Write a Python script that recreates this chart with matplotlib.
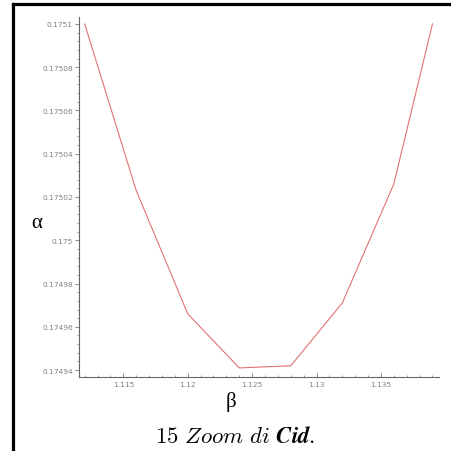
import numpy as np
import matplotlib
matplotlib.use("Agg")
import matplotlib.pyplot as plt
from matplotlib.ticker import MultipleLocator, FixedLocator
from matplotlib.lines import Line2D

plt.rcParams['mathtext.fontset'] = 'cm'

# data
beta = [1.112, 1.116, 1.120, 1.124, 1.128, 1.132, 1.136, 1.139]
alpha = [0.17510, 0.175023, 0.174966, 0.174941, 0.174942, 0.174971, 0.175026, 0.17510]

xticks = [1.115, 1.12, 1.125, 1.13, 1.135]
xtick_labels = ['1.115', '1.12', '1.125', '1.13', '1.135']
yticks = [0.17494, 0.17496, 0.17498, 0.175, 0.17502, 0.17504, 0.17506, 0.17508, 0.1751]
ytick_labels = ['0.17494', '0.17496', '0.17498', '0.175', '0.17502',
                '0.17504', '0.17506', '0.17508', '0.1751']

fig = plt.figure(figsize=(4.52, 4.52), dpi=100)
ax = fig.add_axes([0.1748, 0.1637, 0.7965, 0.7965])

ax.plot(beta, alpha, color='#e27272', lw=0.8)

ax.set_xlim(1.11156, 1.13951)
ax.set_ylim(0.1749368, 0.1751032)

# maple style axes: just left and bottom lines
for s in ['top', 'right']:
    ax.spines[s].set_visible(False)
for s in ['left', 'bottom']:
    ax.spines[s].set_color('#666666')
    ax.spines[s].set_linewidth(0.8)

ax.xaxis.set_major_locator(FixedLocator(xticks))
ax.set_xticklabels(xtick_labels)
ax.xaxis.set_minor_locator(MultipleLocator(0.001))
ax.yaxis.set_major_locator(FixedLocator(yticks))
ax.set_yticklabels(ytick_labels)
ax.yaxis.set_minor_locator(MultipleLocator(0.000004))

ax.tick_params(axis='x', which='both', direction='in', colors='#777777',
               labelsize=5.3, labelcolor='#808080', pad=3)
ax.tick_params(axis='y', which='both', direction='out', colors='#777777',
               labelsize=5.3, labelcolor='#808080', pad=1.5)
ax.tick_params(which='major', length=3, width=0.6)
ax.tick_params(which='minor', length=1.5, width=0.5)

# axis names, upright greek like the original
fig.text(37 / 452, 1 - 224 / 452, 'α', fontsize=15, family='Liberation Serif',
         ha='center', va='center')
fig.text(231 / 452, 1 - 402 / 452, 'β', fontsize=15, family='Liberation Serif',
         ha='center', va='center')

# caption under the figure
fig.text(235 / 452, 1 - 437 / 452, r'$15\ \mathit{Zoom\ di}\ \mathbfit{Cid}.$',
         fontsize=16.5, ha='center', va='center')

# page frame (top and left lines)
fig.add_artist(Line2D([13 / 452, 1.0], [1 - 5 / 452, 1 - 5 / 452],
                      transform=fig.transFigure, color='black', lw=2.3))
fig.add_artist(Line2D([13 / 452, 13 / 452], [0.0, 1 - 5 / 452],
                      transform=fig.transFigure, color='black', lw=2.3))

fig.savefig('out.png', dpi=100)
